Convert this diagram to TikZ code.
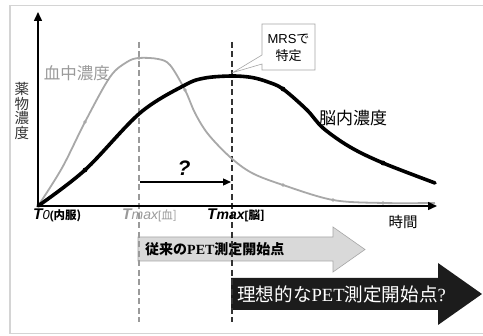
\documentclass[tikz,border=0pt]{standalone}
\usepackage{fontspec}
\setmainfont{Liberation Sans}
\newfontfamily\jp{Noto Sans CJK JP}
\newfontfamily\petserif{Liberation Serif}
\usetikzlibrary{arrows.meta}
\definecolor{framegray}{HTML}{D4D4D4}
\definecolor{bloodgray}{HTML}{A8A8A8}
\definecolor{labelgray}{HTML}{9A9A9A}
\definecolor{arrowfill}{HTML}{D9D9D9}
\definecolor{arrowedge}{HTML}{A6A6A6}
\definecolor{darkbox}{HTML}{1C1C1C}
\tikzset{
  fs/.style={font=\fontsize{#1}{#1}\selectfont},
  bloodline/.style={draw=bloodgray, line width=1.8pt, line join=round},
  brainline/.style={draw=black, line width=3.6pt, line join=round, line cap=round},
  bloodmark/.style={fill=bloodgray},
  brainmark/.style={fill=black},
  axisline/.style={draw=black, line width=1.5pt, -{Triangle[length=9pt,width=8pt]}},
  tmaxdash/.style={line width=1.1pt, dash pattern=on 6pt off 3.5pt},
}
\begin{document}
\begin{tikzpicture}[x=1pt,y=-1pt]
\useasboundingbox (0,0) rectangle (483,336);
\clip (0,0) rectangle (483,336);
\fill[white] (0,0) rectangle (483,336);
\draw[framegray, line width=1.3pt] (10,5.5) rectangle (500,333.5);

% coordinates
\coordinate (O) at (38,206);
\coordinate (ytop) at (38,12);
\coordinate (xend) at (437,206);

% gray block arrow
\filldraw[fill=arrowfill, draw=arrowedge, line width=0.6pt]
  (138,237) -- (333,237) -- (333,227) -- (365,249.5) -- (333,272) -- (333,261) -- (138,261) -- cycle;
\node[anchor=west, inner sep=0, fs=14] (conv) at (145,249.5)
  {\jp\bfseries 従来の{\petserif\bfseries PET}測定開始点};

% black block arrow
\fill[darkbox]
  (231,278) -- (438,278) -- (438,263) -- (482,294) -- (438,325) -- (438,310) -- (231,310) -- cycle;
\node[anchor=west, inner sep=0, fs=18.6, text=white] (ideal) at (237,294)
  {\jp 理想的な{\petserif PET}測定開始点{\petserif ?}};

% dashed Tmax lines
\coordinate (tb1) at (139,42); \coordinate (tb2) at (139,322);
\coordinate (tr1) at (232,42); \coordinate (tr2) at (232,322);
\draw[tmaxdash, draw=labelgray] (tb1) -- (tb2);
\draw[tmaxdash, draw=black!80] (tr1) -- (tr2);

% blood curve
\draw[bloodline] plot[smooth, tension=0.55] coordinates {
  (38,206) (62,168) (85,122) (110,77) (127,62) (139,58) (158,59) (170,65)
  (185,90) (195,113) (208,134) (230,157) (252,173) (283,185) (333,200) (383,203) (435,203)};
\foreach \p in {(85,122),(139,58),(185,90),(283,185),(333,200),(383,203)}
  \fill[bloodmark] \p circle (1.9);

% brain curve
\draw[brainline] plot[smooth, tension=0.55] coordinates {
  (38,206) (85,170) (140,113) (185,85) (205,78) (232,76) (252,77.5) (268,82)
  (283,89) (307,110) (323,128) (350,147) (383,163) (435,183)};
\foreach \p in {(85,170),(283,89),(383,163)}
  \fill[brainmark] \p circle (2.4);

% axes
\draw[axisline] (O) -- (ytop);
\draw[axisline] (O) -- (xend);

% question arrow
\coordinate (q1) at (140,182);
\coordinate (q2) at (231,182);
\draw[line width=1.3pt, -{Triangle[length=8pt,width=7pt]}] (q1) -- (q2);
\node[fs=21, inner sep=0] (qm) at (184,168) {\bfseries\itshape ?};

% callout
\filldraw[fill=white, draw=black!35, line width=0.6pt]
  (262,24) -- (315,24) -- (315,70) -- (262,70) -- (262,64) -- (233,72.5) -- (262,55) -- cycle;
\node[align=center, inner sep=0, font=\fontsize{13}{17}\selectfont] (mrs) at (288.5,48)
  {MRS{\jp で}\\{\jp 特定}};

% labels
\node[fs=16.5, text=labelgray, inner sep=0] (blood) at (77,73) {\jp 血中濃度};
\node[fs=17, inner sep=0] (brain) at (353,118) {\jp 脳内濃度};
\node[align=center, inner sep=0, text=black!80, font=\fontsize{14.5}{14.6}\selectfont] (yl) at (22,111)
  {\jp 薬\\\jp 物\\\jp 濃\\\jp 度};
\node[fs=14.5, inner sep=0] (time) at (403,222) {\jp 時間};

\node[anchor=base west, inner sep=0] (t0) at (33,219.5)
  {{\fontsize{15.5}{15}\selectfont\bfseries\itshape T}{\fontsize{13}{13}\selectfont\itshape 0}{\fontsize{11.5}{11}\selectfont\bfseries(\jp\bfseries 内服)}};
\node[anchor=base west, inner sep=0, text=labelgray] (tmb) at (122,219.5)
  {{\fontsize{15.5}{15}\selectfont\bfseries\itshape T}{\fontsize{14}{13.5}\selectfont\itshape max}{\fontsize{11.5}{11}\selectfont[\jp 血]}};
\node[anchor=base west, inner sep=0] (tmr) at (207,219.5)
  {{\fontsize{15.5}{15}\selectfont\bfseries\itshape T}{\fontsize{14}{13.5}\selectfont\bfseries\itshape max}{\fontsize{11.5}{11}\selectfont\bfseries[\jp\bfseries 脳]}};
\end{tikzpicture}
\end{document}
